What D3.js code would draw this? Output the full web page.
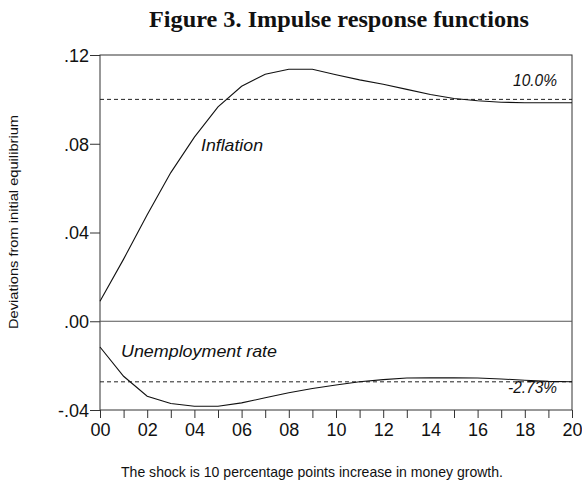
<!DOCTYPE html>
<html>
<head>
<meta charset="utf-8">
<script src="https://cdn.jsdelivr.net/npm/d3@7"></script>
<style>
  body { margin: 0; background: #fff; }
  svg text { font-family: "Liberation Sans", Arial, sans-serif; fill: #111; }
</style>
</head>
<body>
<svg id="chart" width="582" height="495"></svg>
<script>
// periods after the shock
const periods = d3.range(0, 21);
const inflation = [0.009, 0.028, 0.048, 0.067, 0.083, 0.0966, 0.1059, 0.1113, 0.1136, 0.1136,
  0.1111, 0.1088, 0.1068, 0.1045, 0.1022, 0.1004, 0.0994, 0.0987, 0.0985, 0.0985, 0.0985];
const unemployment = [-0.0116, -0.0248, -0.0338, -0.0371, -0.0383, -0.0383, -0.0368, -0.0345,
  -0.0322, -0.0303, -0.0287, -0.0273, -0.0263, -0.0256, -0.0255, -0.0255, -0.0256, -0.0260,
  -0.0266, -0.0271, -0.0273];
const steadyStates = [0.100, -0.0273];
const yTicks = [-0.04, 0.00, 0.04, 0.08, 0.12];
const xLabelTicks = d3.range(0, 21, 2);

const svg = d3.select('#chart');
const m = { left: 100, right: 572, top: 55, bottom: 410 };

const x = d3.scaleLinear().domain([0, 20]).range([m.left, m.right]);
const y = d3.scaleLinear().domain([-0.04, 0.12]).range([m.bottom, m.top]);

// title
svg.append('text')
  .attr('x', 339).attr('y', 27)
  .attr('text-anchor', 'middle')
  .attr('textLength', 380).attr('lengthAdjust', 'spacingAndGlyphs')
  .style('font-family', '"Liberation Serif", "Times New Roman", serif')
  .style('font-weight', 'bold')
  .style('font-size', '23px')
  .text('Figure 3. Impulse response functions');

// frame
svg.append('rect')
  .attr('x', m.left).attr('y', m.top)
  .attr('width', m.right - m.left).attr('height', m.bottom - m.top)
  .attr('fill', 'none').attr('stroke', '#333').attr('stroke-width', 1);

// zero line
svg.append('line')
  .attr('x1', m.left).attr('x2', m.right)
  .attr('y1', y(0)).attr('y2', y(0))
  .attr('stroke', '#555').attr('stroke-width', 1);

// y axis
const fmtY = d => (d < 0 ? '-' : '') + d3.format('.2f')(Math.abs(d)).replace(/^0/, '');
const yAxis = svg.append('g')
  .attr('transform', `translate(${m.left},0)`)
  .call(d3.axisLeft(y).tickValues(yTicks).tickSize(10).tickPadding(1).tickFormat(fmtY));
yAxis.select('.domain').remove();
yAxis.attr('font-size', 18).attr('font-family', null);
yAxis.selectAll('text').style('font-size', '18px').attr('dy', '0.36em');
yAxis.selectAll('line').attr('stroke', '#333');

// x axis
const xAxis = svg.append('g')
  .attr('transform', `translate(0,${m.bottom})`)
  .call(d3.axisBottom(x).tickValues(periods).tickSize(8).tickPadding(5)
    .tickFormat(d => xLabelTicks.includes(d) ? d3.format('02d')(d) : ''));
xAxis.select('.domain').remove();
xAxis.attr('font-size', 18).attr('font-family', null);
xAxis.selectAll('text').style('font-size', '18px');
xAxis.selectAll('line').attr('stroke', '#333');

// y label
svg.append('text')
  .attr('transform', 'translate(18,222) rotate(-90)')
  .attr('text-anchor', 'middle')
  .attr('textLength', 214).attr('lengthAdjust', 'spacingAndGlyphs')
  .style('font-size', '13px')
  .text('Deviations from initial equilibrium');

// steady state dashed lines
svg.selectAll('.ss').data(steadyStates).join('line')
  .attr('class', 'ss')
  .attr('x1', m.left).attr('x2', m.right)
  .attr('y1', d => y(d)).attr('y2', d => y(d))
  .attr('stroke', '#222').attr('stroke-width', 1)
  .attr('stroke-dasharray', '4,3');

const line = d3.line().x((d, i) => x(periods[i])).y(d => y(d));
[inflation, unemployment].forEach(s => {
  svg.append('path').datum(s)
    .attr('d', line)
    .attr('fill', 'none').attr('stroke', '#111').attr('stroke-width', 1.1);
});

// annotations
const notes = [
  { t: 'Inflation', x: 201, y: 151, a: 'start', w: 62 },
  { t: '10.0%', x: 513, y: 86, a: 'start', w: 44 },
  { t: 'Unemployment rate', x: 121, y: 357, a: 'start', w: 156 },
  { t: '-2.73%', x: 508, y: 393, a: 'start', w: 49 }
];
svg.selectAll('.note').data(notes).join('text')
  .attr('class', 'note')
  .attr('x', d => d.x).attr('y', d => d.y)
  .attr('text-anchor', d => d.a)
  .attr('textLength', d => d.w).attr('lengthAdjust', 'spacingAndGlyphs')
  .style('font-style', 'italic')
  .style('font-size', '17px')
  .text(d => d.t);

// footer
svg.append('text')
  .attr('x', 312).attr('y', 477)
  .attr('text-anchor', 'middle')
  .attr('textLength', 382).attr('lengthAdjust', 'spacingAndGlyphs')
  .style('font-size', '14.5px')
  .text('The shock is 10 percentage points increase in money growth.');
</script>
</body>
</html>
